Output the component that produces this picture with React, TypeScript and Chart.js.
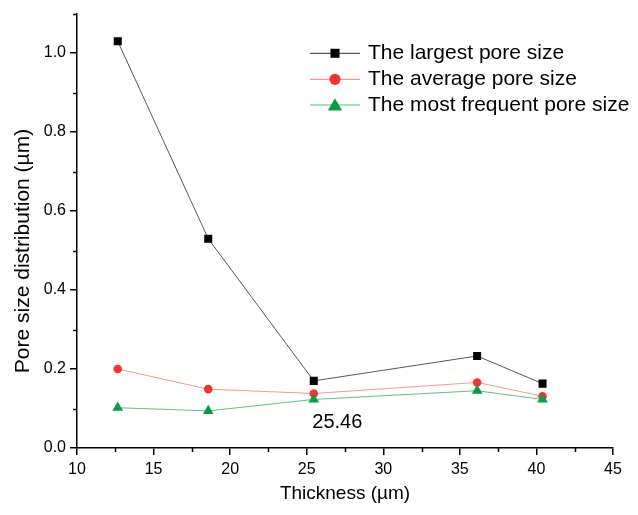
import React, { useEffect, useRef } from "react";
import { Chart, registerables } from "chart.js";

Chart.register(...registerables);

// ---- Data ----
const THICKNESS = [12.66, 18.57, 25.46, 36.13, 40.4];
const LARGEST = [1.03, 0.53, 0.17, 0.233, 0.163];
const AVERAGE = [0.2, 0.149, 0.138, 0.166, 0.131];
const MOST_FREQUENT = [0.102, 0.094, 0.123, 0.145, 0.123];
const SERIES_LABELS = [
  "The largest pore size",
  "The average pore size",
  "The most frequent pore size",
];
const X_TITLE = "Thickness (µm)";
const Y_TITLE = "Pore size distribution (µm)";
const ANNOTATION_TEXT = "25.46";
const ANNOTATION_X = 27.0;
const ANNOTATION_Y = 0.064;
const X_MINOR = [12.5, 17.5, 22.5, 27.5, 32.5, 37.5, 42.5];
const Y_MINOR = [0.1, 0.3, 0.5, 0.7, 0.9, 1.1];

const FONT = '"Liberation Sans", Arial, sans-serif';
const LEGEND_MARKER_RADIUS: Record<string, number> = { rect: 6.4, circle: 5.6, triangle: 8.2 };

function drawMarker(ctx: CanvasRenderingContext2D, style: string, x: number, y: number, r: number, color: string) {
  ctx.save();
  ctx.fillStyle = color;
  ctx.beginPath();
  if (style === "rect") {
    const s = Math.SQRT1_2 * r;
    ctx.rect(x - s, y - s, 2 * s, 2 * s);
  } else if (style === "triangle") {
    ctx.moveTo(x, y - r);
    ctx.lineTo(x + 0.866 * r, y + 0.5 * r);
    ctx.lineTo(x - 0.866 * r, y + 0.5 * r);
    ctx.closePath();
  } else {
    ctx.arc(x, y, r, 0, Math.PI * 2);
  }
  ctx.fill();
  ctx.restore();
}

const decorPlugin = {
  id: "decor",
  afterDraw(chart: any) {
    const ctx: CanvasRenderingContext2D = chart.ctx;
    const xs = chart.scales.x;
    const ys = chart.scales.y;
    const { left, bottom } = chart.chartArea;
    ctx.save();
    // minor ticks
    ctx.strokeStyle = "#000";
    ctx.lineWidth = 1.5;
    ctx.beginPath();
    Y_MINOR.forEach((v) => {
      const py = Math.round(ys.getPixelForValue(v)) + 0.5;
      ctx.moveTo(left - 4, py);
      ctx.lineTo(left, py);
    });
    X_MINOR.forEach((v) => {
      const px = Math.round(xs.getPixelForValue(v)) + 0.5;
      ctx.moveTo(px, bottom);
      ctx.lineTo(px, bottom + 4);
    });
    ctx.stroke();

    // annotation
    ctx.fillStyle = "#000";
    ctx.font = `20px ${FONT}`;
    ctx.textAlign = "center";
    ctx.textBaseline = "middle";
    ctx.fillText(ANNOTATION_TEXT, xs.getPixelForValue(ANNOTATION_X), ys.getPixelForValue(ANNOTATION_Y));

    // y title
    ctx.save();
    ctx.translate(23, 251);
    ctx.rotate(-Math.PI / 2);
    ctx.font = `21px ${FONT}`;
    ctx.fillText(Y_TITLE, 0, 0);
    ctx.restore();

    // legend
    const rows = [53.3, 79.3, 105];
    chart.data.datasets.forEach((ds: any, i: number) => {
      const y = rows[i];
      ctx.strokeStyle = ds.borderColor;
      ctx.lineWidth = 1.2;
      ctx.beginPath();
      ctx.moveTo(310, y);
      ctx.lineTo(360, y);
      ctx.stroke();
      drawMarker(
        ctx,
        ds.pointStyle,
        335,
        ds.pointStyle === "triangle" ? y + 1.5 : y,
        LEGEND_MARKER_RADIUS[ds.pointStyle],
        ds.pointBackgroundColor
      );
      ctx.fillStyle = "#000";
      ctx.font = `21px ${FONT}`;
      ctx.textAlign = "left";
      ctx.textBaseline = "middle";
      ctx.fillText(ds.label, 368, y);
    });
    ctx.restore();
  },
};

export default function App() {
  const ref = useRef<HTMLCanvasElement | null>(null);
  useEffect(() => {
    document.body.style.margin = "0";
    const canvas = ref.current!;
    const toPts = (ys: number[]) => THICKNESS.map((x, i) => ({ x, y: ys[i] }));
    const chart = new Chart(canvas, {
      type: "line",
      data: {
        datasets: [
          {
            label: SERIES_LABELS[0],
            data: toPts(LARGEST),
            borderColor: "#555555",
            borderWidth: 1,
            pointStyle: "rect",
            pointRadius: 5.7,
            pointBackgroundColor: "#000000",
            pointBorderWidth: 0,
            order: 0,
          },
          {
            label: SERIES_LABELS[1],
            data: toPts(AVERAGE),
            borderColor: "#f29a8a",
            borderWidth: 1,
            pointStyle: "circle",
            pointRadius: 4.3,
            pointBackgroundColor: "#ee3535",
            pointBorderWidth: 0,
            order: 2,
          },
          {
            label: SERIES_LABELS[2],
            data: toPts(MOST_FREQUENT),
            borderColor: "#5cc07e",
            borderWidth: 1,
            pointStyle: "triangle",
            pointRadius: 6.2,
            pointBackgroundColor: "#0a9a48",
            pointBorderWidth: 0,
            order: 1,
          },
        ] as any,
      },
      options: {
        animation: false,
        responsive: false,
        layout: { padding: { top: 13, right: 25, left: 0, bottom: 0 } },
        plugins: { legend: { display: false }, tooltip: { enabled: false } },
        scales: {
          x: {
            type: "linear",
            min: 10,
            max: 45,
            afterFit: (s: any) => {
              s.height = 67;
            },
            ticks: { stepSize: 5, color: "#000", font: { family: FONT, size: 16 }, padding: 5 },
            grid: { drawOnChartArea: false, drawTicks: true, tickLength: 7, color: "#000", lineWidth: 1.5 },
            border: { display: true, color: "#000", width: 1.5 },
            title: {
              display: true,
              text: X_TITLE,
              color: "#000",
              font: { family: FONT, size: 19 },
              padding: { top: 0, bottom: 10 },
            },
          },
          y: {
            type: "linear",
            min: 0,
            max: 1.1,
            afterFit: (s: any) => {
              s.width = 77;
            },
            ticks: {
              stepSize: 0.2,
              includeBounds: false,
              color: "#000",
              font: { family: FONT, size: 16 },
              padding: 4,
              callback: (v: any) => Number(v).toFixed(1),
            },
            grid: { drawOnChartArea: false, drawTicks: true, tickLength: 7, color: "#000", lineWidth: 1.5 },
            border: { display: true, color: "#000", width: 1.5 },
          },
        },
      } as any,
      plugins: [decorPlugin],
    });
    return () => chart.destroy();
  }, []);
  return (
    <div style={{ position: "absolute", left: 0, top: 0, width: 638, height: 515, background: "#fff" }}>
      <canvas ref={ref} width={638} height={515} style={{ display: "block" }} />
    </div>
  );
}
